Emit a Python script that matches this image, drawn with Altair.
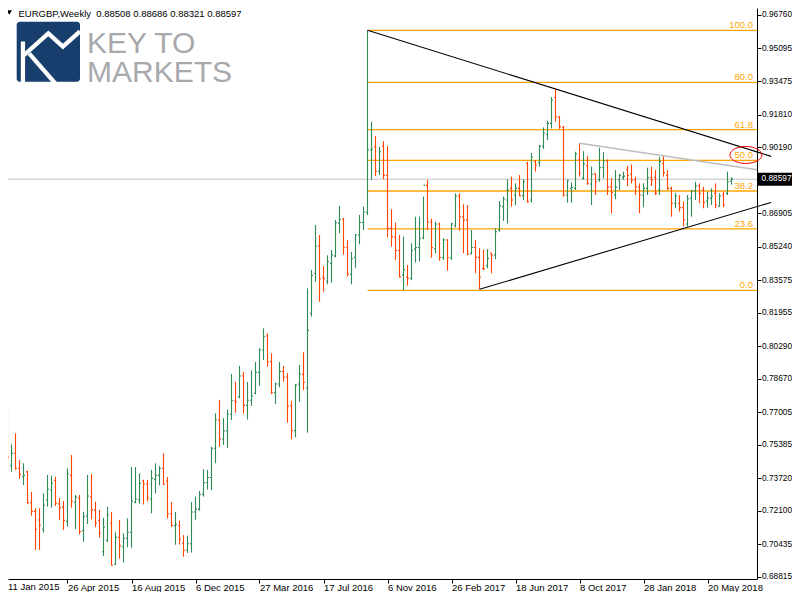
import altair as alt
import pandas as pd

# ---------------- data (weekly EURGBP bars) ----------------
opens = [0.7642,0.7637,0.7435,0.7497,0.7422,0.7380,0.7404,0.7251,0.7208,0.7165,
         0.7119,0.7264,0.7314,0.7360,0.7245,0.7230,0.7158,0.7387,0.7253,0.7274,
         0.7112,0.7185,0.7279,0.7215,0.7163,0.7007,0.7064,0.7149,0.6945,0.7079,
         0.7032,0.7074,0.7104,0.7253,0.7264,0.7359,0.7344,0.7269,0.7367,0.7387,
         0.7422,0.7359,0.7196,0.7137,0.7136,0.7049,0.7016,0.7047,0.7205,0.7219,
         0.7293,0.7350,0.7376,0.7522,0.7662,0.7568,0.7608,0.7691,0.7758,0.7777,
         0.7881,0.7735,0.7760,0.7795,0.7899,0.8010,0.8080,0.7952,0.7797,0.7841,
         0.7904,0.7876,0.7732,0.7609,0.7841,0.7889,0.7820,0.8193,0.8392,0.8527,
         0.8372,0.8352,0.8441,0.8478,0.8641,0.8660,0.8521,0.8386,0.8471,0.8582,
         0.8645,0.8695,0.9005,0.9021,0.8899,0.9024,0.8878,0.8615,0.8571,0.8505,
         0.8385,0.8372,0.8367,0.8512,0.8520,0.8568,0.8829,0.8647,0.8514,0.8637,
         0.8469,0.8557,0.8469,0.8628,0.8776,0.8673,0.8657,0.8490,0.8520,0.8471,
         0.8417,0.8430,0.8491,0.8483,0.8607,0.8723,0.8756,0.8814,0.8781,0.8814,
         0.8778,0.8939,0.8756,0.8945,0.8941,0.9024,0.9083,0.9137,0.9266,0.9169,
         0.9116,0.8781,0.8814,0.8814,0.8956,0.8865,0.8925,0.8836,0.8886,0.8856,
         0.8919,0.8951,0.8820,0.8781,0.8856,0.8870,0.8908,0.8885,0.8856,0.8820,
         0.8781,0.8814,0.8867,0.8867,0.8806,0.8939,0.8880,0.8814,0.8740,0.8740,
         0.8718,0.8637,0.8765,0.8801,0.8826,0.8806,0.8751,0.8765,0.8789,0.8726,
         0.8781,0.8789,0.88508]
highs = [0.7836,0.7717,0.7541,0.7596,0.7463,0.7447,0.7410,0.7304,0.7223,0.7223,
         0.7298,0.7389,0.7385,0.7380,0.7274,0.7259,0.7422,0.7488,0.7289,0.7289,
         0.7206,0.7389,0.7394,0.7256,0.7215,0.7176,0.7230,0.7205,0.7104,0.7165,
         0.7099,0.7173,0.7428,0.7428,0.7397,0.7365,0.7364,0.7414,0.7447,0.7433,
         0.7497,0.7379,0.7254,0.7205,0.7162,0.7090,0.7087,0.7254,0.7281,0.7309,
         0.7417,0.7414,0.7529,0.7696,0.7762,0.7671,0.7714,0.7891,0.7853,0.7931,
         0.7901,0.7851,0.7909,0.7951,0.8019,0.8118,0.8093,0.7994,0.7848,0.7951,
         0.7931,0.7897,0.7758,0.7841,0.7936,0.7999,0.8317,0.8408,0.8632,0.8582,
         0.8428,0.8481,0.8508,0.8657,0.8726,0.8667,0.8557,0.8498,0.8587,0.8682,
         0.8723,0.9600,0.9145,0.9074,0.9021,0.9049,0.9024,0.8710,0.8643,0.8582,
         0.8574,0.8433,0.8541,0.8673,0.8673,0.8773,0.8856,0.8663,0.8648,0.8643,
         0.8566,0.8561,0.8643,0.8789,0.8789,0.8735,0.8731,0.8607,0.8557,0.8516,
         0.8508,0.8512,0.8493,0.8615,0.8751,0.8773,0.8859,0.8872,0.8839,0.8880,
         0.8859,0.8947,0.8990,0.8955,0.9030,0.9117,0.9150,0.9268,0.9307,0.9174,
         0.9125,0.8858,0.8843,0.8996,0.9038,0.8999,0.8975,0.8922,0.8889,0.9016,
         0.8994,0.8958,0.8864,0.8905,0.8885,0.8897,0.8925,0.8933,0.8872,0.8839,
         0.8839,0.8917,0.8922,0.8905,0.8971,0.8975,0.8905,0.8822,0.8792,0.8781,
         0.8748,0.8781,0.8806,0.8847,0.8839,0.8822,0.8797,0.8814,0.8839,0.8789,
         0.8797,0.8897,0.88686]
lows = [0.7598,0.7430,0.7405,0.7414,0.7370,0.7339,0.7245,0.7186,0.7016,0.7016,
        0.7102,0.7231,0.7226,0.7235,0.7165,0.7115,0.7132,0.7226,0.7120,0.7094,
        0.7057,0.7145,0.7168,0.7129,0.7077,0.6986,0.7054,0.6938,0.6941,0.6973,
        0.6953,0.7029,0.7027,0.7248,0.7246,0.7242,0.7258,0.7198,0.7298,0.7338,
        0.7340,0.7173,0.7132,0.7042,0.7042,0.6982,0.7001,0.7003,0.7166,0.7211,
        0.7281,0.7316,0.7314,0.7447,0.7529,0.7538,0.7524,0.7662,0.7698,0.7770,
        0.7694,0.7664,0.7732,0.7790,0.7833,0.7961,0.7927,0.7791,0.7742,0.7825,
        0.7853,0.7649,0.7566,0.7576,0.7753,0.7811,0.7599,0.8176,0.8350,0.8250,
        0.8300,0.8337,0.8345,0.8471,0.8591,0.8484,0.8375,0.8337,0.8419,0.8536,
        0.8607,0.8681,0.8856,0.8875,0.8880,0.8859,0.8569,0.8524,0.8458,0.8370,
        0.8307,0.8330,0.8358,0.8446,0.8450,0.8560,0.8607,0.8469,0.8491,0.8454,
        0.8458,0.8405,0.8458,0.8620,0.8603,0.8491,0.8483,0.8485,0.8392,0.8314,
        0.8408,0.8417,0.8392,0.8462,0.8598,0.8652,0.8640,0.8723,0.8731,0.8775,
        0.8756,0.8743,0.8743,0.8897,0.8922,0.9010,0.9054,0.9112,0.9146,0.9110,
        0.8773,0.8743,0.8743,0.8806,0.8872,0.8856,0.8831,0.8731,0.8781,0.8847,
        0.8864,0.8781,0.8690,0.8760,0.8806,0.8856,0.8825,0.8839,0.8781,0.8690,
        0.8720,0.8781,0.8826,0.8781,0.8781,0.8872,0.8806,0.8673,0.8715,0.8698,
        0.8624,0.8624,0.8673,0.8756,0.8740,0.8715,0.8718,0.8731,0.8715,0.8723,
        0.8720,0.8781,0.88321]
closes = [0.7637,0.7477,0.7497,0.7422,0.7392,0.7387,0.7251,0.7208,0.7119,0.7139,
          0.7238,0.7319,0.7347,0.7248,0.7225,0.7163,0.7394,0.7258,0.7279,0.7107,
          0.7181,0.7284,0.7215,0.7150,0.7099,0.7130,0.7190,0.6940,0.7079,0.7036,
          0.7074,0.7104,0.7259,0.7269,0.7347,0.7344,0.7274,0.7372,0.7387,0.7422,
          0.7343,0.7196,0.7137,0.7144,0.7069,0.7013,0.7047,0.7205,0.7219,0.7293,
          0.7350,0.7376,0.7522,0.7662,0.7568,0.7608,0.7691,0.7758,0.7752,0.7881,
          0.7735,0.7760,0.7782,0.7899,0.8010,0.8076,0.7952,0.7798,0.7841,0.7904,
          0.7876,0.7732,0.7609,0.7836,0.7891,0.7850,0.8108,0.8381,0.8527,0.8363,
          0.8365,0.8449,0.8483,0.8643,0.8660,0.8521,0.8388,0.8464,0.8582,0.8645,
          0.8695,0.9005,0.9010,0.8899,0.8996,0.8880,0.8615,0.8574,0.8505,0.8375,
          0.8410,0.8367,0.8505,0.8520,0.8566,0.8829,0.8647,0.8520,0.8637,0.8470,
          0.8557,0.8469,0.8637,0.8776,0.8673,0.8657,0.8487,0.8520,0.8471,0.8372,
          0.8413,0.8466,0.8479,0.8598,0.8728,0.8761,0.8806,0.8756,0.8814,0.8778,
          0.8847,0.8748,0.8970,0.8930,0.9024,0.9088,0.9137,0.9253,0.9169,0.9121,
          0.8781,0.8854,0.8819,0.8985,0.8889,0.8935,0.8839,0.8884,0.8847,0.8917,
          0.8951,0.8820,0.8793,0.8820,0.8880,0.8875,0.8878,0.8856,0.8822,0.8781,
          0.8814,0.8867,0.8856,0.8789,0.8947,0.8892,0.8814,0.8740,0.8776,0.8718,
          0.8657,0.8761,0.8801,0.8826,0.8789,0.8743,0.8766,0.8776,0.8731,0.8776,
          0.8731,0.8847,0.88597]

x_label_idx = [0, 16, 32, 48, 64, 80, 96, 112, 128, 144, 160, 176]
x_labels = ["11 Jan 2015", "26 Apr 2015", "16 Aug 2015", "6 Dec 2015", "27 Mar 2016",
            "17 Jul 2016", "6 Nov 2016", "26 Feb 2017", "18 Jun 2017", "8 Oct 2017",
            "28 Jan 2018", "20 May 2018"]
y_ticks = [0.96760, 0.95095, 0.93475, 0.91810, 0.90190, 0.86905, 0.85240, 0.83575,
           0.81955, 0.80290, 0.78670, 0.77005, 0.75385, 0.73720, 0.72100, 0.70435, 0.68815]

fib_high = 0.9600
fib_low = 0.8307
fib_levels = [0.0, 23.6, 38.2, 50.0, 61.8, 80.0, 100.0]
fib_start_idx = 91

upper_idx = [91, 191.9]
upper_price = [0.9600, 0.8973]
lower_idx = [119, 191.9]
lower_price = [0.8312, 0.8744]
gray_idx = [144, 188.4]
gray_price = [0.9038, 0.8906]
ellipse_idx = [185.6]
ellipse_price = [0.8980]

symbol = "EURGBP,Weekly"
current_price = closes[-1]

# ---------------- styling ----------------
UP = "#2E8B57"
DOWN = "#FF4500"
FIB = "#FFA500"
FONT = "Liberation Sans"
W, H = 749, 571

n = len(opens)
bars = pd.DataFrame({"i": list(range(n)), "o": opens, "h": highs, "l": lows, "c": closes})
bars["dir"] = ["up" if c >= o else "down" for o, c in zip(opens, closes)]
bars["il"] = bars["i"] - 0.375
bars["ir"] = bars["i"] + 0.375

fib = pd.DataFrame({"level": fib_levels})
fib["price"] = fib_low + (fib_high - fib_low) * fib["level"] / 100.0
fib["label"] = [f"{v:.1f}" for v in fib_levels]
fib["start"] = fib_start_idx

trend = pd.DataFrame({
    "name": ["upper"] * 2 + ["lower"] * 2,
    "i": upper_idx + lower_idx,
    "p": upper_price + lower_price,
})
gray = pd.DataFrame({"i": gray_idx, "p": gray_price})
ell = pd.DataFrame({"i": ellipse_idx, "p": ellipse_price})
one = pd.DataFrame({"a": [0]})

xs = alt.Scale(domain=[1.125, 188.375], nice=False, zero=False)
ys = alt.Scale(domain=[0.687153, 0.971077], nice=False, zero=False)
cs = alt.Scale(domain=["up", "down"], range=[UP, DOWN])

label_arr = "[" + ",".join(f"'{s}'" for s in x_labels) + "]"
x_axis = alt.Axis(values=x_label_idx, labelExpr=f"{label_arr}[round(datum.value/16)]",
                  orient="bottom", grid=False, tickSize=4, tickColor="black",
                  domainColor="black", labelColor="black", labelAlign="left",
                  labelBaseline="alphabetic", labelPadding=7, labelFont=FONT,
                  labelFontSize=9.5, labelOverlap=False, labelFlush=False, labelBound=False,
                  title=None, domainWidth=1, tickWidth=1)
y_axis = alt.Axis(values=y_ticks, format=".5f", orient="right", grid=False, tickSize=4,
                  tickColor="black", domainColor="black", labelColor="black",
                  labelPadding=0.5, labelFont=FONT, labelFontSize=8.3, labelOverlap=False,
                  labelFlush=False, labelBound=False, title=None, domainWidth=1, tickWidth=1)


def X(field):
    return alt.X(field, type="quantitative", scale=xs, axis=x_axis)


def Y(field):
    return alt.Y(field, type="quantitative", scale=ys, axis=y_axis)


def YD(value):
    return alt.YDatum(value, type="quantitative", scale=ys, axis=y_axis)


# fibonacci lines and labels
fib_lines = alt.Chart(fib).mark_rule(color=FIB, strokeWidth=1.3).encode(
    x=X("start"), x2=alt.value(W), y=Y("price"))
fib_text = alt.Chart(fib).mark_text(color=FIB, align="right", baseline="bottom",
                                    font=FONT, fontSize=9.5).encode(
    x=alt.value(W - 4), y=Y("price"), text="label:N")

# current price line
price_line = alt.Chart(one).mark_rule(color="#C0C0C0", strokeWidth=1).encode(
    y=YD(current_price))

# OHLC bars
hl = alt.Chart(bars).mark_rule(strokeWidth=1.1).encode(
    x=X("i"), y=Y("l"), y2="h:Q",
    color=alt.Color("dir:N", scale=cs, legend=None))
op = alt.Chart(bars).mark_rule(strokeWidth=1.1).encode(
    x=X("il"), x2="i:Q", y=Y("o"),
    color=alt.Color("dir:N", scale=cs, legend=None))
cl = alt.Chart(bars).mark_rule(strokeWidth=1.1).encode(
    x=X("i"), x2="ir:Q", y=Y("c"),
    color=alt.Color("dir:N", scale=cs, legend=None))

# trend lines
trend_lines = alt.Chart(trend).mark_line(color="black", strokeWidth=1.1).encode(
    x=X("i"), y=Y("p"), detail="name:N")
gray_line = alt.Chart(gray).mark_line(color="#BDBDBD", strokeWidth=1.5).encode(
    x=X("i"), y=Y("p"))

ellipse = alt.Chart(ell).mark_point(
    shape="M -1 0 A 1 0.53 0 1 1 1 0 A 1 0.53 0 1 1 -1 0 Z", size=1024,
    filled=False, stroke="#FF0000", strokeWidth=1, opacity=1).encode(
    x=X("i"), y=Y("p"))

# current price box on the price scale
box = alt.Chart(one).mark_rect(color="black", yOffset=-6.5, y2Offset=6.5).encode(
    x=alt.value(W + 1), x2=alt.value(W + 40),
    y=YD(current_price), y2=alt.Y2Datum(current_price))
box_text = alt.Chart(one).mark_text(text=f"{current_price:.5f}", color="white", align="left",
                                    baseline="middle", font=FONT, fontSize=8.3).encode(
    x=alt.value(W + 4.5), y=YD(current_price))

# first date label (its tick lies left of the visible area)
first_label = alt.Chart(one).mark_text(text=x_labels[0], align="left", baseline="alphabetic",
                                       font=FONT, fontSize=9.5, color="black").encode(
    x=alt.value(0), y=alt.value(H + 11))

# header
header = alt.Chart(one).mark_text(
    text=f"{symbol}\u00a0\u00a0{opens[-1]:.5f} {highs[-1]:.5f} {lows[-1]:.5f} {closes[-1]:.5f}",
    align="left", baseline="top", font=FONT, fontSize=9.5, color="black").encode(
    x=alt.value(10.5), y=alt.value(0.5))
tri = alt.Chart(one).mark_point(shape="triangle-down", size=28, filled=True,
                                color="black", opacity=1).encode(
    x=alt.value(1.3), y=alt.value(4.5))

# logo watermark
logo_box = alt.Chart(one).mark_rect(color="#173E6C", cornerRadius=3).encode(
    x=alt.value(8.7), x2=alt.value(72), y=alt.value(13.7), y2=alt.value(73.7))
logo_glyph = alt.Chart(one).mark_point(
    shape="M -0.8 -0.32 L -0.8 1 M -0.78 0.12 L 0 -0.58 L 0.46 -0.16 L 1 -0.64 M -0.6 0.06 L 0.22 1",
    size=4020, filled=False, stroke="white", strokeWidth=4.3, opacity=1,
    strokeCap="butt", strokeJoin="miter").encode(x=alt.value(40.3), y=alt.value(43.7))
logo_t1 = alt.Chart(one).mark_text(text="KEY TO", align="left", baseline="alphabetic",
                                   font=FONT, fontSize=30, color="#A7A9AC").encode(
    x=alt.value(79), y=alt.value(45.3))
logo_t2 = alt.Chart(one).mark_text(text="MARKETS", align="left", baseline="alphabetic",
                                   font=FONT, fontSize=30, color="#A7A9AC").encode(
    x=alt.value(79), y=alt.value(73.7))

chart = alt.layer(
    fib_lines, price_line, hl, op, cl, trend_lines, gray_line, fib_text, ellipse,
    box, box_text, first_label, logo_box, logo_glyph, logo_t1, logo_t2, header, tri
).properties(
    width=W, height=H,
    padding={"left": 0, "top": 0, "right": 35, "bottom": 13},
    autosize=alt.AutoSizeParams(type="none"),
    background="white",
).configure_view(stroke=None)

chart.save("out.html", embed_options={"renderer": "svg", "actions": False})
